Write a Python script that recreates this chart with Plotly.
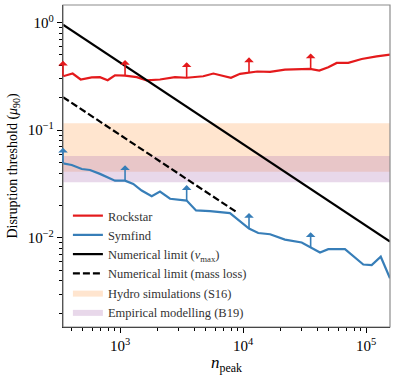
import math
import plotly.graph_objects as go

# ---- data ----
x_limits = [344, 156700]
y_limits = [0.001486, 1.456]

rockstar_n = [344, 412, 479, 589, 687, 794, 910, 1099, 1368, 1648, 2113, 2799, 3483, 4753,
              5741, 7980, 9462, 13060, 16600, 21930, 35080, 41690, 49320, 57810, 71780,
              92260, 122200, 156700]
rockstar_mu = [0.317, 0.336, 0.296, 0.309, 0.311, 0.291, 0.324, 0.322, 0.311, 0.291, 0.296,
               0.311, 0.307, 0.317, 0.336, 0.307, 0.334, 0.351, 0.348, 0.366, 0.371, 0.358,
               0.384, 0.422, 0.422, 0.459, 0.485, 0.503]

symfind_n = [344, 405, 489, 570, 687, 910, 1099, 1282, 1500, 1811, 2113, 2553, 3483, 4150,
             5395, 6501, 7834, 11190, 13300, 16600, 21930, 29990, 35480, 42270, 49320,
             67450, 95060, 111200, 131800, 156700]
symfind_mu = [0.0493, 0.0475, 0.0436, 0.0427, 0.0393, 0.0340, 0.0340, 0.0317, 0.0275, 0.0244,
              0.0269, 0.0231, 0.0222, 0.0180, 0.0177, 0.0174, 0.0170, 0.0122, 0.0111, 0.0108,
              0.00964, 0.00906, 0.00809, 0.00732, 0.00785, 0.00785, 0.00566, 0.00558,
              0.00668, 0.00421]

# lower-limit arrows
arrow_n = [344, 1099, 3483, 11190, 35480]
rockstar_arrow_mu = [0.317, 0.322, 0.307, 0.341, 0.371]
symfind_arrow_mu = [0.0493, 0.0340, 0.0222, 0.0122, 0.00809]

vmax_n = [344, 156700]
vmax_mu = [0.955, 0.00925]
massloss_n = [344, 8700]
massloss_mu = [0.203, 0.0176]

hydro_band = [0.0412, 0.116]
empirical_band = [0.0329, 0.0575]

RED = "#e41a1c"
BLUE = "#377eb8"
FONT = "Liberation Serif"

fig = go.Figure()

# shaded bands (drawn first, listed last in legend)
band_x = [x_limits[0] * 0.5, x_limits[1] * 2, x_limits[1] * 2, x_limits[0] * 0.5]
fig.add_trace(go.Scatter(
    x=band_x, y=[hydro_band[0], hydro_band[0], hydro_band[1], hydro_band[1]],
    fill="toself", fillcolor="rgba(255,127,14,0.2)", line=dict(width=0),
    mode="lines", name="Hydro simulations (S16)", legendrank=5, hoverinfo="skip"))
fig.add_trace(go.Scatter(
    x=band_x, y=[empirical_band[0], empirical_band[0], empirical_band[1], empirical_band[1]],
    fill="toself", fillcolor="rgba(178,125,185,0.3)", line=dict(width=0),
    mode="lines", name="Empirical modelling (B19)", legendrank=6, hoverinfo="skip"))

fig.add_trace(go.Scatter(x=rockstar_n, y=rockstar_mu, mode="lines", name="Rockstar",
                         line=dict(color=RED, width=2.2), legendrank=1))
fig.add_trace(go.Scatter(x=symfind_n, y=symfind_mu, mode="lines", name="Symfind",
                         line=dict(color=BLUE, width=2.2), legendrank=2))
fig.add_trace(go.Scatter(x=vmax_n, y=vmax_mu, mode="lines",
                         name="Numerical limit (<i>v</i><sub>max</sub>)",
                         line=dict(color="black", width=2.2), legendrank=3))
fig.add_trace(go.Scatter(x=massloss_n, y=massloss_mu, mode="lines",
                         name="Numerical limit (mass loss)",
                         line=dict(color="black", width=2.2, dash="7px,3px"), legendrank=4))

# arrows marking lower limits
for ys, col in [(rockstar_arrow_mu, RED), (symfind_arrow_mu, BLUE)]:
    for xv, yv in zip(arrow_n, ys):
        fig.add_annotation(x=math.log10(xv), y=math.log10(yv), ax=0, ay=-17,
                           xref="x", yref="y", axref="pixel", ayref="pixel",
                           showarrow=True, arrowside="start", arrowhead=4,
                           arrowsize=1.1, arrowwidth=1.6, arrowcolor=col, text="")

# gray top/right frame, black left/bottom axes
fig.add_shape(type="rect", xref="paper", yref="paper", x0=0, x1=1, y0=0, y1=1,
              line=dict(color="#8c8c8c", width=1.2), layer="above")

major_x = [1e3, 1e4, 1e5]
major_y = [1e-2, 1e-1, 1e0]
minor_x = [m * 10 ** e for e in range(2, 6) for m in range(2, 10)]
minor_y = [m * 10 ** e for e in range(-3, 1) for m in range(2, 10)]

fig.update_xaxes(type="log", range=[math.log10(x_limits[0]), math.log10(x_limits[1])],
                 tickvals=major_x, ticktext=["10<sup>3</sup>", "10<sup>4</sup>", "10<sup>5</sup>"],
                 ticks="outside", ticklen=5, tickwidth=1, tickcolor="black",
                 minor=dict(tickvals=minor_x, ticks="outside", ticklen=2.5, tickcolor="black",
                            showgrid=False),
                 showline=True, linecolor="black", linewidth=1.3, showgrid=False, zeroline=False,
                 tickfont=dict(size=15, family=FONT, color="black"),
                 title=dict(text="<i>n</i><sub>peak</sub>", standoff=4,
                            font=dict(size=17, family=FONT, color="black")))
fig.update_yaxes(type="log", range=[math.log10(y_limits[0]), math.log10(y_limits[1])],
                 tickvals=major_y, ticktext=["10<sup>\u22122</sup>", "10<sup>\u22121</sup>", "10<sup>0</sup>"],
                 ticks="outside", ticklen=5, tickwidth=1, tickcolor="black",
                 minor=dict(tickvals=minor_y, ticks="outside", ticklen=2.5, tickcolor="black",
                            showgrid=False),
                 showline=True, linecolor="black", linewidth=1.3, showgrid=False, zeroline=False,
                 tickfont=dict(size=15, family=FONT, color="black"),
                 title=dict(text="Disruption threshold (<i>\u03bc</i><sub>90</sub>)", standoff=6,
                            font=dict(size=14, family=FONT, color="black")))

fig.update_layout(
    width=395, height=375,
    margin=dict(l=63, r=5, t=5, b=46),
    plot_bgcolor="white", paper_bgcolor="white",
    showlegend=True,
    legend=dict(x=0.015, y=0.0, xanchor="left", yanchor="bottom", bgcolor="rgba(0,0,0,0)",
                font=dict(size=12.5, family=FONT, color="#333333"), tracegroupgap=0),
)

fig.write_html("out.html", config={"displayModeBar": False},
               post_script="document.body.style.margin='0';")
